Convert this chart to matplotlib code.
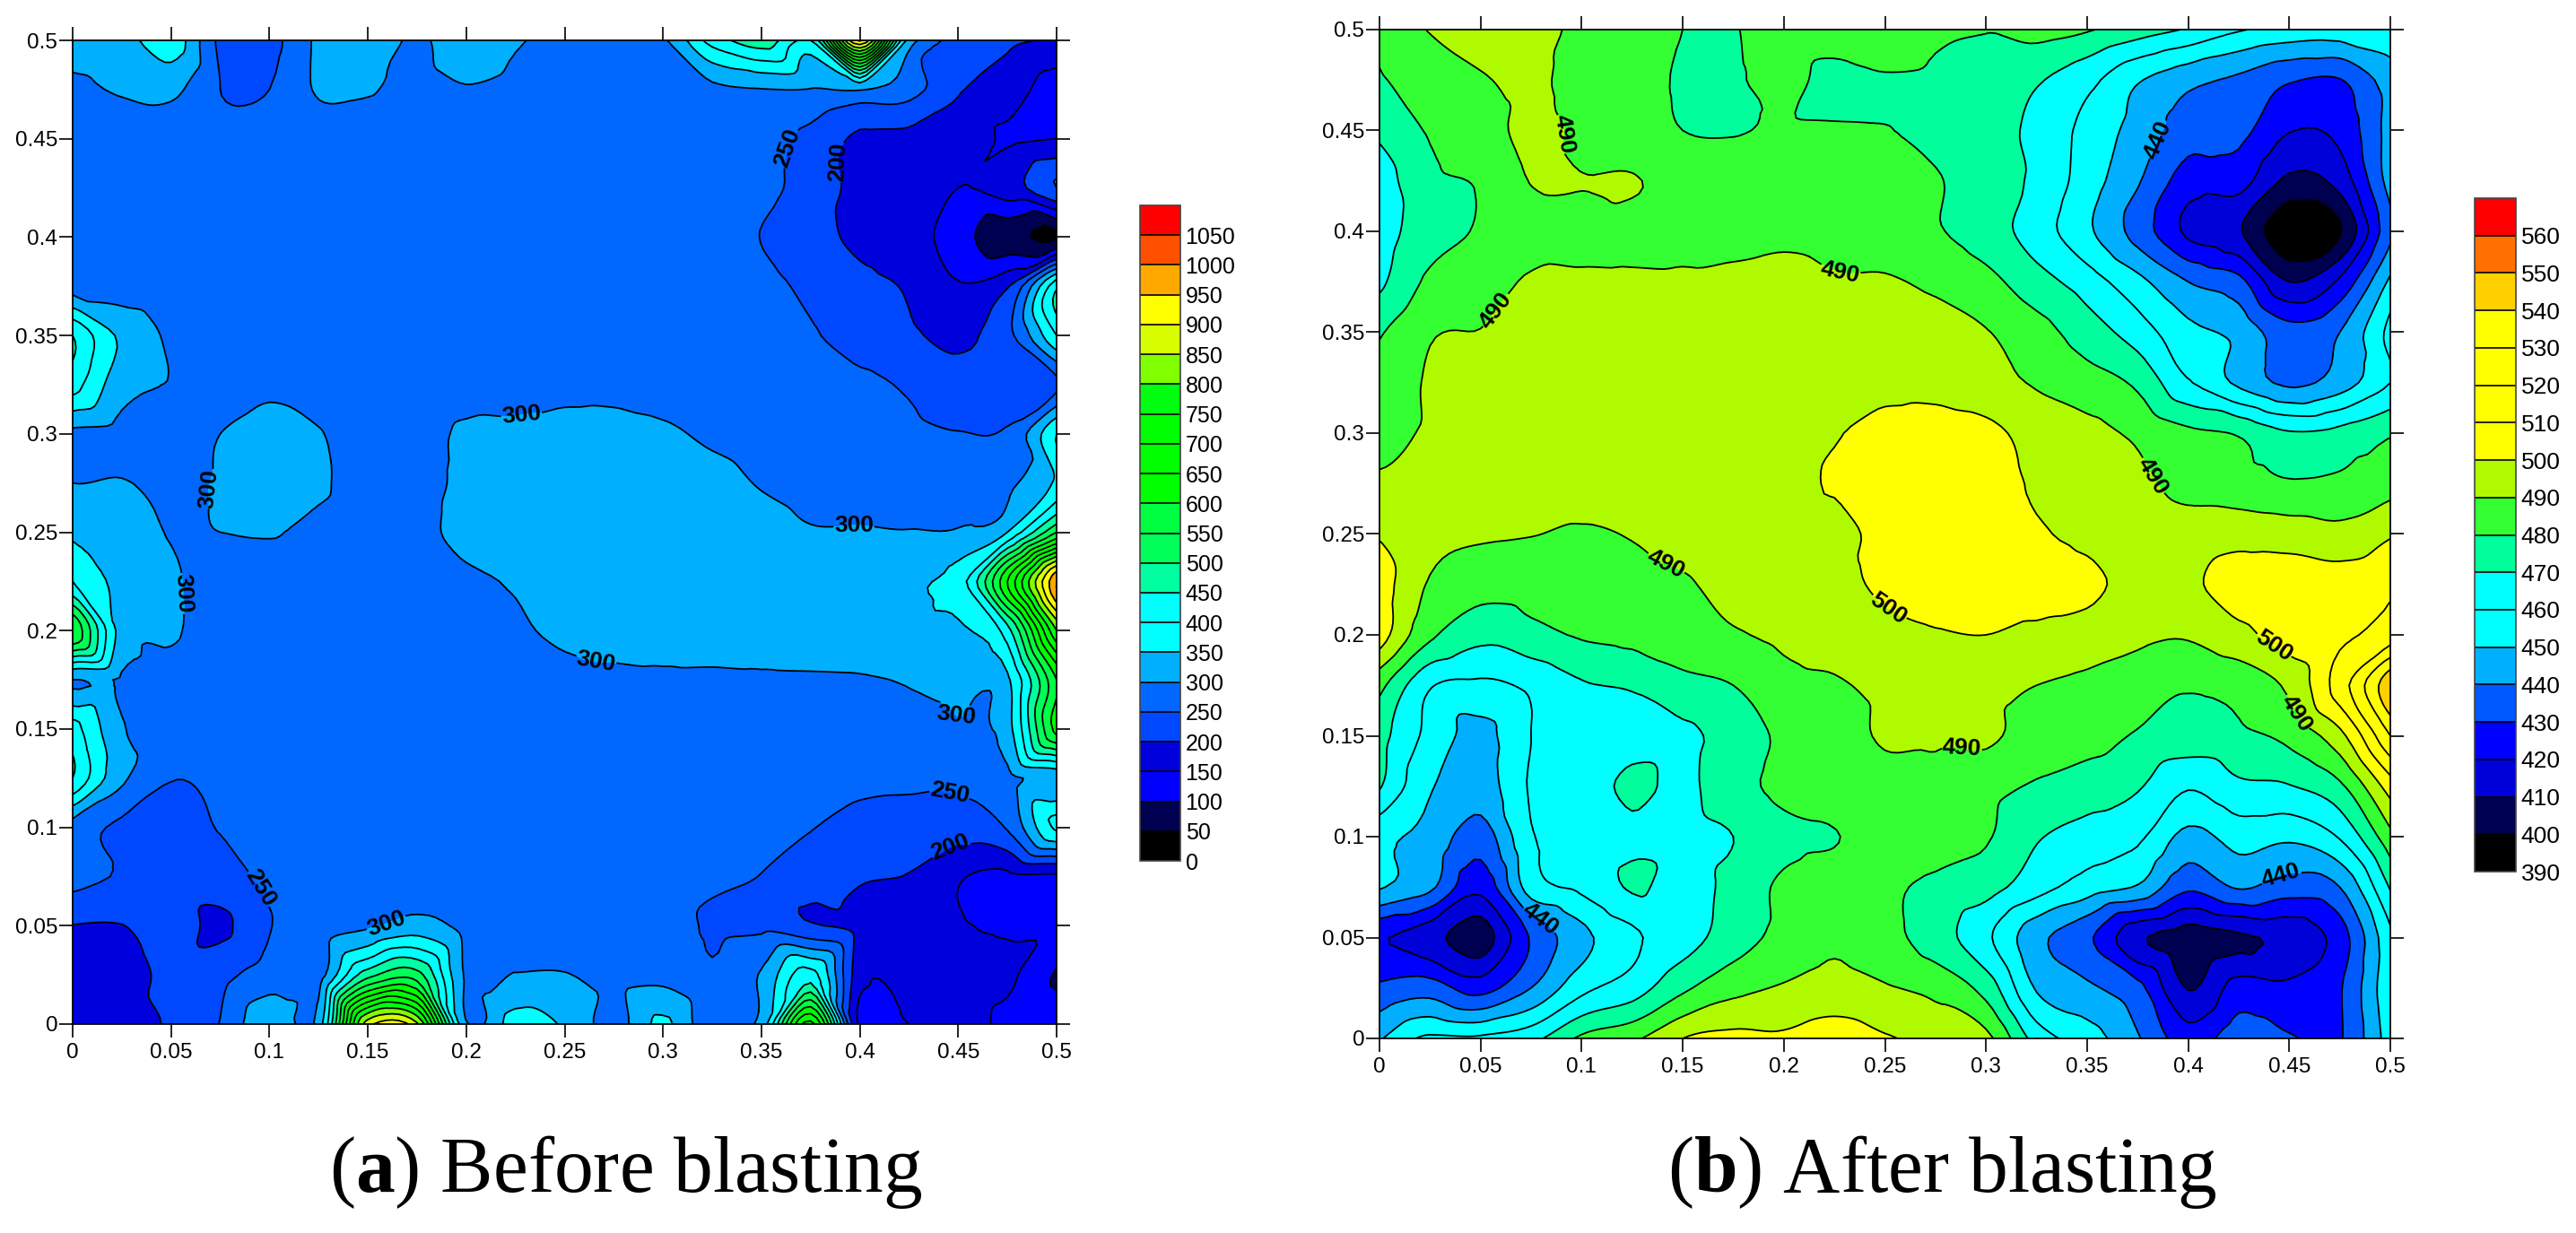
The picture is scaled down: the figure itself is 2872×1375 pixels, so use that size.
import numpy as np
import matplotlib
matplotlib.use("Agg")
import matplotlib.pyplot as plt
import matplotlib.tri as mtri

plt.rcParams["font.family"] = ["Liberation Sans", "DejaVu Sans"]
plt.rcParams["mathtext.fontset"] = "custom"
plt.rcParams["mathtext.bf"] = "Liberation Serif:bold"
plt.rcParams["mathtext.rm"] = "Liberation Serif"

W, H = 2872, 1375

grid_pos = [0, 0.025, 0.05, 0.075, 0.1, 0.125, 0.15, 0.175, 0.2, 0.225, 0.25,
            0.275, 0.3, 0.325, 0.35, 0.375, 0.4, 0.425, 0.45, 0.475, 0.5]
tick_vals = [0, 0.05, 0.1, 0.15, 0.2, 0.25, 0.3, 0.35, 0.4, 0.45, 0.5]
tick_labels = ["0", "0.05", "0.1", "0.15", "0.2", "0.25", "0.3", "0.35", "0.4", "0.45", "0.5"]

# (a) rows run from y=0 up to y=0.5
before = [
    [190, 185, 205, 252, 345, 320, 880, 860, 305, 370, 345, 280, 360, 265, 320, 720, 140, 150, 165, 140, 140],
    [175, 175, 215, 235, 272, 275, 480, 520, 292, 302, 302, 285, 285, 255, 305, 420, 170, 170, 170, 160, 95],
    [199, 199, 225, 190, 248, 275, 292, 320, 285, 278, 275, 275, 270, 245, 240, 205, 185, 180, 155, 145, 145],
    [270, 245, 230, 230, 262, 275, 280, 285, 280, 275, 275, 275, 272, 258, 249, 230, 205, 198, 155, 140, 140],
    [280, 240, 235, 252, 270, 278, 280, 280, 280, 278, 278, 278, 278, 272, 262, 252, 230, 225, 225, 255, 410],
    [450, 310, 252, 262, 275, 278, 280, 282, 284, 285, 285, 285, 285, 283, 280, 275, 265, 262, 262, 285, 310],
    [420, 305, 282, 280, 282, 284, 285, 285, 287, 288, 288, 290, 290, 290, 290, 288, 287, 290, 295, 330, 620],
    [300, 293, 285, 283, 285, 285, 287, 290, 292, 290, 290, 292, 294, 294, 295, 296, 297, 303, 315, 340, 600],
    [600, 330, 305, 285, 285, 287, 290, 292, 295, 296, 308, 318, 320, 322, 325, 325, 328, 335, 340, 430, 800],
    [400, 335, 306, 285, 285, 287, 290, 293, 295, 303, 320, 325, 330, 332, 335, 338, 340, 345, 375, 650, 1000],
    [340, 320, 298, 300, 302, 292, 288, 292, 310, 325, 330, 330, 332, 328, 318, 304, 304, 302, 304, 350, 550],
    [300, 302, 292, 303, 320, 305, 285, 285, 310, 325, 330, 330, 328, 315, 297, 285, 282, 280, 280, 290, 360],
    [290, 285, 280, 300, 318, 302, 282, 283, 307, 310, 318, 318, 308, 292, 282, 275, 270, 262, 252, 258, 400],
    [420, 318, 297, 275, 290, 280, 278, 278, 280, 282, 285, 285, 280, 278, 275, 268, 262, 243, 215, 205, 240],
    [450, 340, 292, 272, 272, 272, 272, 272, 272, 272, 272, 272, 272, 270, 265, 255, 225, 208, 190, 235, 400],
    [280, 275, 272, 272, 272, 272, 272, 272, 272, 272, 272, 272, 272, 270, 262, 240, 212, 195, 155, 195, 440],
    [275, 272, 272, 272, 272, 272, 272, 272, 272, 272, 272, 272, 272, 270, 249, 218, 190, 175, 120, 70, 48],
    [272, 272, 272, 272, 272, 272, 272, 272, 272, 272, 272, 272, 272, 270, 262, 230, 185, 170, 150, 175, 250],
    [272, 272, 272, 272, 272, 272, 272, 272, 272, 272, 272, 272, 272, 270, 265, 238, 190, 185, 180, 145, 150],
    [290, 305, 312, 250, 250, 306, 305, 280, 296, 285, 278, 275, 275, 288, 298, 298, 303, 270, 205, 175, 125],
    [320, 330, 380, 240, 235, 310, 345, 290, 340, 305, 290, 290, 295, 420, 480, 400, 960, 330, 230, 210, 195],
]

# (b) same layout
after = [
    [449, 462, 462, 467, 482, 488, 500, 503, 502, 505, 501, 497, 493, 466, 455, 441, 425, 436, 431, 429, 455],
    [432, 435, 426, 440, 457, 465, 478, 487, 491, 494, 491, 487, 476, 449, 442, 433, 409.5, 424, 422, 429, 458],
    [421, 414, 405, 431, 447, 458, 466, 475, 483, 488, 483, 475, 462, 443, 432, 412, 405, 408.5, 413, 425, 458],
    [451, 442, 423, 455, 462, 471, 466, 473, 482, 485, 481.5, 478, 474, 464, 455, 449, 432, 441, 435, 440, 471],
    [453, 447, 435, 459, 464, 468, 467, 470, 477, 479.5, 484, 485, 481, 471, 466, 462, 447, 454, 452, 461, 487],
    [471, 451, 445, 461, 465, 472, 468, 476, 483, 486, 487, 488, 483, 479, 475, 471, 461, 468, 469.5, 478, 505],
    [474, 457, 447, 460, 465, 467, 468, 474, 482, 486, 491, 491, 492, 485, 484, 479, 476, 478, 483, 497, 530],
    [483, 461, 458, 462, 469, 471, 477, 480, 487, 489, 492, 494, 493, 490, 488, 485, 481, 483, 492, 515, 548],
    [505, 482, 473, 477, 481, 483, 486, 489, 492, 494, 497, 499, 500, 497, 495, 492, 491, 497, 505, 508, 515],
    [505, 489, 484, 484, 485, 487, 489, 493, 495, 497, 502, 507, 507, 507, 503, 496, 498, 505, 506, 505, 508],
    [499, 492, 491, 490.3, 489, 490.5, 493, 495, 497, 496, 504, 508, 508, 501.5, 497, 495, 494, 496, 495, 493, 499],
    [491, 492, 494, 494, 494, 494, 495, 496, 498, 501, 507, 508, 508, 498, 496, 492, 487, 484, 481, 482, 486],
    [487, 491, 493, 494, 494, 494, 495, 496, 497, 499, 506, 507, 503, 496, 493, 488, 482, 479, 471, 473, 479],
    [483, 491, 492, 493, 494, 494, 494, 495, 495, 495, 495, 495, 493, 489, 484, 478, 461, 448, 438, 445, 460],
    [479, 489, 490.2, 492, 494, 494, 494, 495, 495, 495, 495, 494, 490.5, 484, 475, 465, 453, 447, 434, 440, 463],
    [468, 482, 486, 491, 491, 491, 491, 492, 493, 491, 491, 488, 483, 474, 465, 453, 440, 433, 410, 422, 452],
    [465, 476, 481, 486, 488, 488, 488, 487, 488, 487, 485, 481, 475, 465, 452, 436, 418, 411, 391, 399, 438],
    [465, 478, 481, 490.3, 490.2, 490.5, 487, 485, 485, 486, 485, 481, 474, 468, 455, 441, 425, 424, 408, 414, 444],
    [472, 481, 485, 493, 488, 485, 480, 479.5, 481, 481, 480.4, 477, 475, 467, 457, 446, 435, 433, 420.5, 423, 444],
    [479, 484, 489, 492, 486, 484, 479, 479, 483, 477, 479, 478, 476, 471, 463, 451, 443, 438, 431, 429.5, 445],
    [482, 490.5, 495, 497, 486, 484, 480, 479.5, 485, 486, 489, 482, 480.5, 484, 481, 475, 469, 461, 457, 456, 456],
]

levels_before = list(range(0, 1101, 50))
colors_before = [
    "#000000", "#000050", "#0000ff", "#0000dc", "#0048ff", "#0068ff", "#00b0ff",
    "#00ffff", "#00ffff", "#00ffa0", "#00ff58", "#00ff40", "#00ff00", "#00ff00",
    "#00ff00", "#00ff10", "#80ff00", "#d8ff00", "#ffff00", "#ffa800", "#ff5000", "#ff0000",
]
levels_after = list(range(390, 571, 10))
colors_after = [
    "#000000", "#000050", "#0000d8", "#0000ff", "#0058ff", "#00b0ff", "#00ffff",
    "#00ffff", "#00ff9c", "#33ff33", "#b0fa00", "#ffff00", "#ffff00", "#ffff00",
    "#ffff00", "#ffd000", "#ff7000", "#ff0000",
]

labels_before = {
    300: [(0.228, 0.31), (0.071, 0.272), (0.058, 0.219), (0.397, 0.257),
          (0.266, 0.187), (0.447, 0.155), (0.159, 0.052)],
    250: [(0.361, 0.446), (0.445, 0.116), (0.099, 0.071)],
    200: [(0.387, 0.438), (0.447, 0.088)],
}
labels_after = {
    490: [(0.093, 0.448), (0.056, 0.362), (0.228, 0.38), (0.381, 0.278),
          (0.143, 0.239), (0.448, 0.159), (0.287, 0.14)],
    500: [(0.253, 0.215), (0.442, 0.194)],
    440: [(0.382, 0.447), (0.079, 0.057), (0.447, 0.078)],
}


def add_px_axes(fig, left, top, right, bottom):
    return fig.add_axes([left / W, 1 - bottom / H, (right - left) / W, (bottom - top) / H])


def draw_panel(fig, box, cbar_box, values, levels, colors, contour_labels, cbar_size):
    ax = add_px_axes(fig, *box)
    xx, yy = np.meshgrid(grid_pos, grid_pos)
    z = np.array(values, dtype=float).ravel()
    # let the library round off the grid so the lines are not polygons
    tri = mtri.Triangulation(xx.ravel(), yy.ravel())
    interp = mtri.CubicTriInterpolator(tri, z, kind="geom")
    tri_fine, z_fine = mtri.UniformTriRefiner(tri).refine_field(z, triinterpolator=interp, subdiv=3)
    z_fine = np.clip(z_fine, levels[0] + 1, levels[-1] - 1)

    cf = ax.tricontourf(tri_fine, z_fine, levels=levels, colors=colors)
    plain = [v for v in levels if v not in contour_labels]
    ax.tricontour(tri_fine, z_fine, levels=plain, colors="black", linewidths=1.3)
    # clabel with manual spots only works when every level of the set is labelled
    for level, where in contour_labels.items():
        cs = ax.tricontour(tri_fine, z_fine, levels=[level], colors="black", linewidths=1.3)
        texts = ax.clabel(cs, manual=where, fmt="%d", fontsize=19, inline=True, inline_spacing=1)
        for t in texts:
            t.set_fontweight("bold")

    ax.set_xlim(0, 0.5)
    ax.set_ylim(0, 0.5)
    ax.set_xticks(tick_vals)
    ax.set_xticklabels(tick_labels)
    ax.set_yticks(tick_vals)
    ax.set_yticklabels(tick_labels)
    ax.tick_params(axis="both", direction="out", length=11, width=1.2, labelsize=17.5,
                   top=True, right=True, colors="black")
    ax.tick_params(axis="x", pad=4)
    ax.tick_params(axis="y", pad=1)
    for spine in ax.spines.values():
        spine.set_linewidth(1.3)

    cax = add_px_axes(fig, *cbar_box)
    cbar = fig.colorbar(cf, cax=cax, ticks=levels[:-1], drawedges=True)
    cbar.ax.set_yticklabels([str(v) for v in levels[:-1]])
    cbar.ax.tick_params(length=0, labelsize=cbar_size, pad=4)
    cbar.dividers.set_color("black")
    cbar.dividers.set_linewidth(1.2)
    cbar.outline.set_edgecolor("#444444")
    cbar.outline.set_linewidth(1.2)
    return ax


fig = plt.figure(figsize=(W / 100, H / 100), dpi=100, facecolor="white")

draw_panel(fig, (81, 45, 1178, 1142), (1271, 229, 1316, 960), before,
           levels_before, colors_before, labels_before, 18)
draw_panel(fig, (1538, 33, 2665, 1158), (2759, 221, 2805, 972), after,
           levels_after, colors_after, labels_after, 19)

caption_style = dict(ha="center", va="baseline", fontsize=63, color="black",
                     family=["Liberation Serif", "DejaVu Serif"])
fig.text(698 / W, 1 - 1329 / H, r"($\mathbf{a}$) Before blasting", **caption_style)
fig.text(2165 / W, 1 - 1329 / H, r"($\mathbf{b}$) After blasting", **caption_style)

fig.savefig("out.png", dpi=100)
